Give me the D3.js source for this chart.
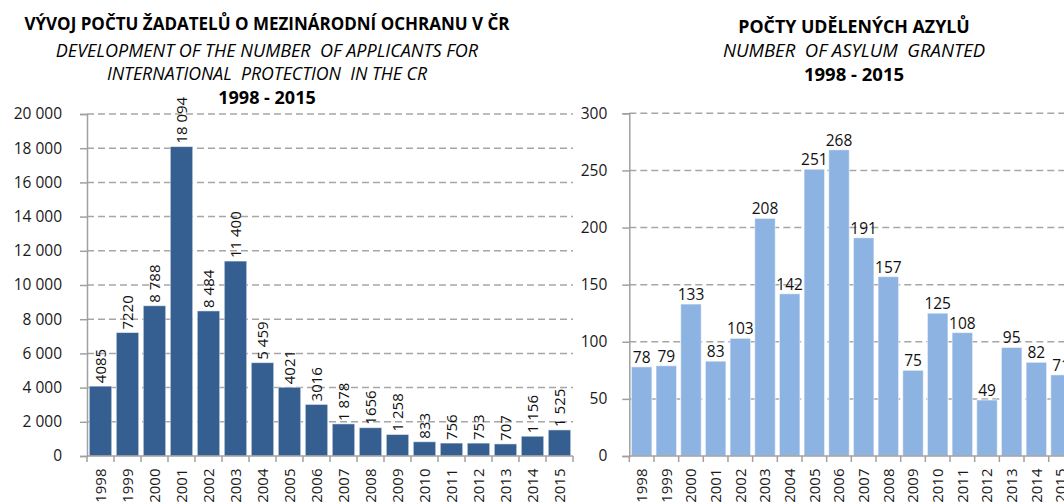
<!DOCTYPE html>
<html>
<head>
<meta charset="utf-8">
<script src="https://cdn.jsdelivr.net/npm/d3@7"></script>
<style>
  html, body { margin: 0; padding: 0; background: #fff; overflow: hidden; }
  svg { display: block; font-family: "Open Sans", sans-serif; }
</style>
</head>
<body>
<svg id="chart"></svg>
<script>
const years = ["1998", "1999", "2000", "2001", "2002", "2003", "2004", "2005", "2006",
               "2007", "2008", "2009", "2010", "2011", "2012", "2013", "2014", "2015"];

// applicants for international protection
const applicants = [4085, 7220, 8788, 18094, 8484, 11400, 5459, 4021, 3016,
                    1878, 1656, 1258, 833, 756, 753, 707, 1156, 1525];
const applicantLabels = ["4085", "7220", "8 788", "18 094", "8 484", "11 400", "5 459", "4021", "3016",
                         "1 878", "1656", "1 258", "833", "756", "753", "707", "1 156", "1 525"];
const applicantTicks = [0, 2000, 4000, 6000, 8000, 10000, 12000, 14000, 16000, 18000, 20000];

// asylum granted
const granted = [78, 79, 133, 83, 103, 208, 142, 251, 268, 191, 157, 75, 125, 108, 49, 95, 82, 71];
const grantedTicks = [0, 50, 100, 150, 200, 250, 300];

const leftTitle = ["VÝVOJ POČTU ŽADATELŮ O MEZINÁRODNÍ OCHRANU V ČR",
                   "DEVELOPMENT OF THE NUMBER  OF APPLICANTS FOR",
                   "INTERNATIONAL  PROTECTION  IN THE CR",
                   "1998 - 2015"];
const rightTitle = ["POČTY UDĚLENÝCH AZYLŮ",
                    "NUMBER  OF ASYLUM  GRANTED",
                    "1998 - 2015"];

const W = 1064, H = 503;
const svg = d3.select("#chart").attr("width", W).attr("height", H);

const fmt = d3.formatLocale({ decimal: ",", thousands: " ", grouping: [3], currency: ["", ""] }).format(",d");

const gridColor = "#a6a6a6";
const axisColor = "#a0a0a0";

function drawChart(opt) {
    const g = svg.append("g");

    const x = d3.scaleBand()
        .domain(years)
        .range([opt.left, opt.right])
        .paddingInner(0.17)
        .paddingOuter(0.085);

    const y = d3.scaleLinear()
        .domain([0, opt.max])
        .range([456, opt.top]);

    // dashed gridlines
    g.selectAll(".grid")
        .data(opt.ticks.filter(d => d > 0))
        .join("line")
        .attr("x1", opt.left)
        .attr("x2", opt.right)
        .attr("y1", d => y(d))
        .attr("y2", d => y(d))
        .attr("stroke", gridColor)
        .attr("stroke-width", 1.5)
        .attr("stroke-dasharray", "7,4");

    // bars
    g.selectAll(".bar")
        .data(opt.values)
        .join("rect")
        .attr("x", (d, i) => x(years[i]))
        .attr("y", d => y(d))
        .attr("width", x.bandwidth())
        .attr("height", d => y(0) - y(d))
        .attr("fill", opt.color)
        .attr("stroke", "#ffffff")
        .attr("stroke-opacity", 0.5)
        .attr("stroke-width", 1);

    // y axis
    const yAxis = g.append("g")
        .attr("transform", `translate(${opt.left},0)`)
        .call(d3.axisLeft(y).tickValues(opt.ticks).tickSize(7).tickPadding(opt.tickPad).tickFormat(fmt));
    yAxis.select(".domain").attr("stroke", axisColor).attr("stroke-width", 1.5);
    yAxis.selectAll(".tick line").attr("stroke", axisColor).attr("stroke-width", 1.5);
    yAxis.selectAll(".tick text")
        .attr("font-family", "Open Sans, sans-serif")
        .attr("font-size", 15.5)
        .attr("fill", "#1a1a1a");

    // x axis line + ticks between categories
    g.append("line")
        .attr("x1", opt.left).attr("x2", opt.right)
        .attr("y1", y(0)).attr("y2", y(0))
        .attr("stroke", axisColor).attr("stroke-width", 1.5);
    const bounds = years.map(d => x(d) - x.step() * 0.085).concat([opt.right]);
    g.selectAll(".xtick")
        .data(bounds)
        .join("line")
        .attr("x1", d => d).attr("x2", d => d)
        .attr("y1", y(0)).attr("y2", y(0) + 6)
        .attr("stroke", axisColor).attr("stroke-width", 1.5);

    // x labels (rotated)
    g.selectAll(".xlab")
        .data(years)
        .join("text")
        .attr("transform", d => `translate(${x(d) + x.bandwidth() / 2},${y(0) + 12.5}) rotate(-90)`)
        .attr("text-anchor", "end")
        .attr("dy", "0.36em")
        .attr("font-size", 15)
        .attr("fill", "#1a1a1a")
        .text(d => d);

    opt.labels(g, x, y);
}

// left chart: applicants
drawChart({
    left: 87, right: 573, top: 114, max: 20000,
    ticks: applicantTicks, values: applicants, color: "#365f91", tickPad: 18,
    labels: (g, x, y) => {
        g.selectAll(".vlab")
            .data(applicants)
            .join("text")
            .attr("transform", (d, i) => `translate(${x(years[i]) + x.bandwidth() / 2},${y(d) - 3}) rotate(-90)`)
            .attr("text-anchor", "start")
            .attr("dy", "0.36em")
            .attr("font-size", 15)
            .attr("fill", "#111")
            .text((d, i) => applicantLabels[i]);
    }
});

// right chart: asylum granted
drawChart({
    left: 629.3, right: 629.3 + 18 * 24.67, top: 113.3, max: 300,
    ticks: grantedTicks, values: granted, color: "#8db3e2", tickPad: 15,
    labels: (g, x, y) => {
        g.selectAll(".vlab")
            .data(granted)
            .join("text")
            .attr("x", (d, i) => x(years[i]) + x.bandwidth() / 2)
            .attr("y", d => y(d) - 4)
            .attr("text-anchor", "middle")
            .attr("font-size", 15.5)
            .attr("fill", "#111")
            .text(d => d);
    }
});

// titles
function drawTitle(lines, cx, baselines, styles) {
    lines.forEach((t, i) => {
        svg.append("text")
            .attr("x", cx)
            .attr("y", baselines[i])
            .attr("text-anchor", "middle")
            .attr("font-size", styles[i].size)
            .attr("font-weight", styles[i].bold ? "bold" : "normal")
            .attr("font-style", styles[i].italic ? "italic" : "normal")
            .attr("fill", "#000")
            .style("white-space", "pre")
            .text(t);
    });
}

drawTitle(leftTitle, 267, [30, 57, 80, 103.5], [
    { size: 17, bold: true }, { size: 18, italic: true }, { size: 17.7, italic: true }, { size: 18, bold: true }
]);
drawTitle(rightTitle, 854, [33, 57, 81], [
    { size: 17.8, bold: true }, { size: 18.5, italic: true }, { size: 18.5, bold: true }
]);
</script>
</body>
</html>
